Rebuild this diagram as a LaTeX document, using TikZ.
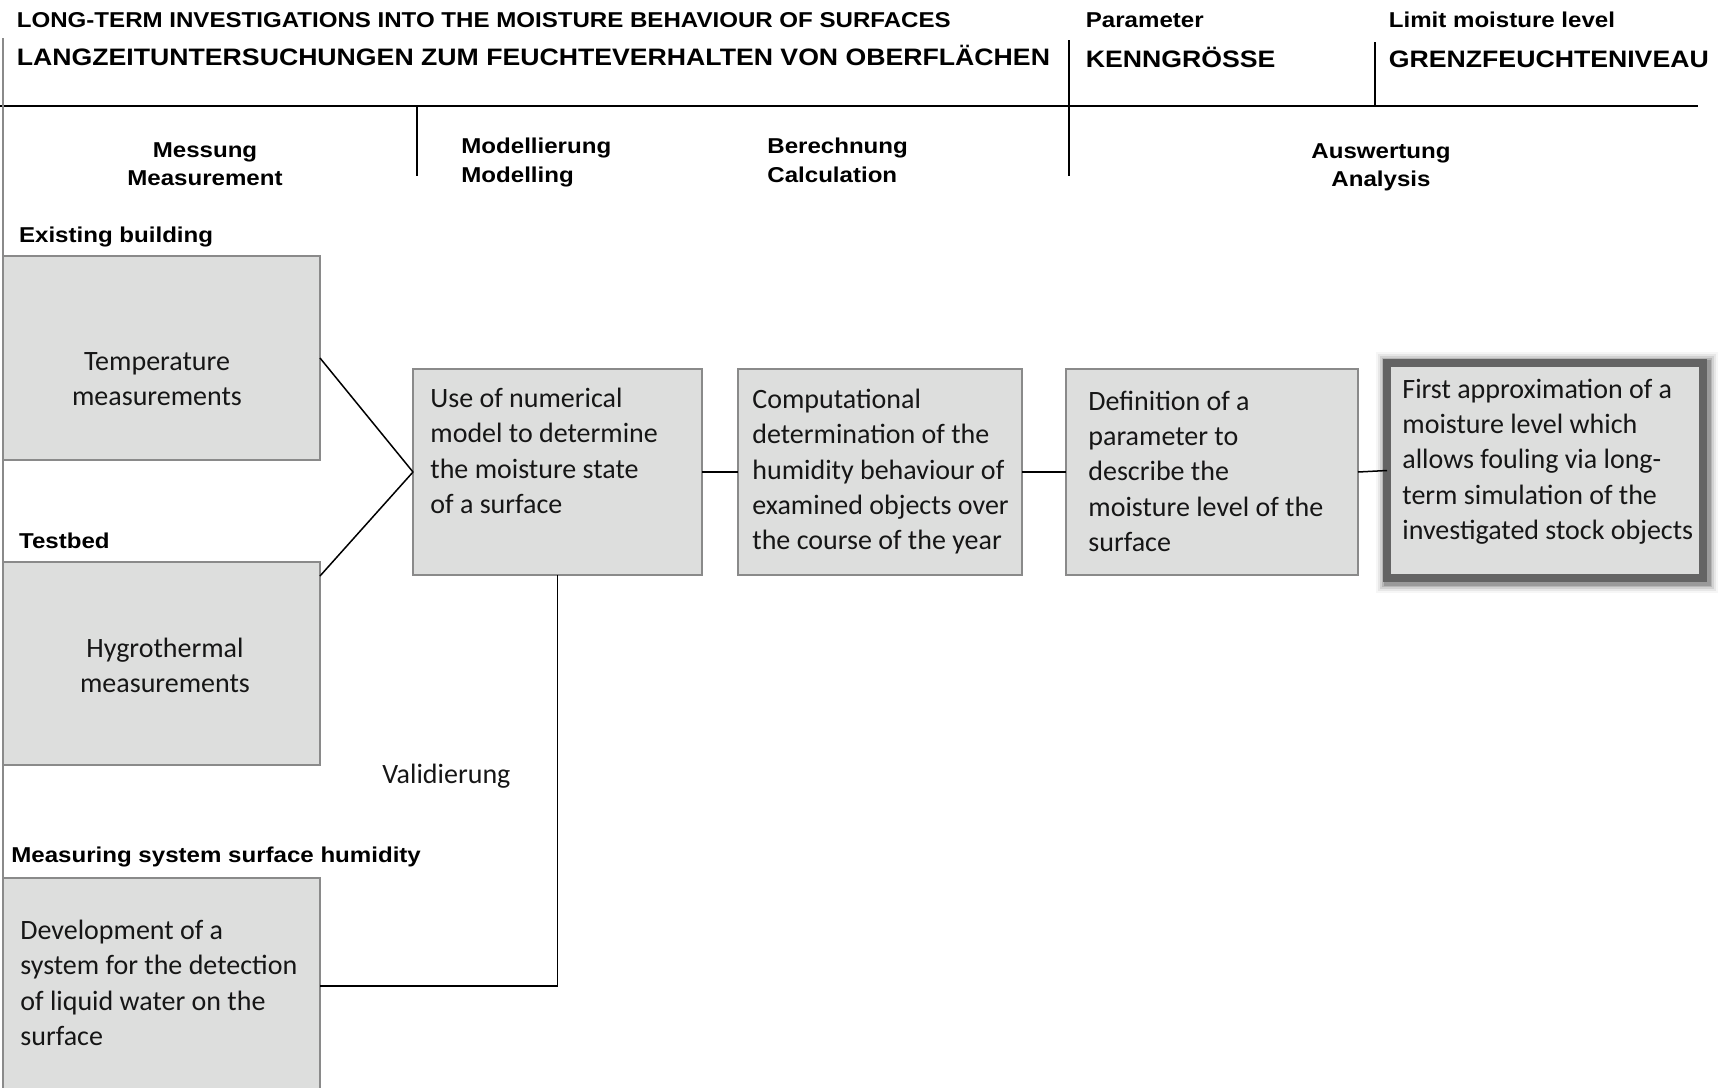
\documentclass[tikz,border=0pt]{standalone}
\usepackage{fontspec}
\setmainfont{Carlito}
\newfontfamily\headfont{Liberation Sans}[FakeStretch=1.12]
\usetikzlibrary{positioning,backgrounds}

\definecolor{boxfill}{RGB}{221,222,221}
\definecolor{boxline}{RGB}{138,138,138}
\definecolor{glowline}{RGB}{100,100,100}
\definecolor{ink}{RGB}{22,22,22}

\begin{document}
\begin{tikzpicture}[x=0.5pt, y=-0.5pt,
  box/.style={draw=boxline, fill=boxfill, line width=1pt, inner sep=0pt, outer sep=0pt},
  boxtext/.style={font=\fontsize{14}{17.55}\selectfont, text=ink, align=left, anchor=north west, inner sep=0pt},
  smallhead/.style={font=\headfont\bfseries\fontsize{10.75}{14.25}\selectfont, inner sep=0pt},
  bighead/.style={font=\headfont\bfseries\fontsize{11.9}{14}\selectfont, anchor=base west, inner sep=0pt},
  rule/.style={line width=0.8pt},
  link/.style={line width=0.75pt}]
  \useasboundingbox (0,0) rectangle (1721,1088);

  % Title block
  \node[smallhead, anchor=base west] (titleen) at (16.5,27) {LONG-TERM INVESTIGATIONS INTO THE MOISTURE BEHAVIOUR OF SURFACES};
  \node[bighead] (titlede) at (16.5,65.5) {LANGZEITUNTERSUCHUNGEN ZUM FEUCHTEVERHALTEN VON OBERFLÄCHEN};
  \node[smallhead, anchor=base west] (paramen) at (1085.5,27) {Parameter};
  \node[bighead] (paramde) at (1085.5,67) {KENNGRÖSSE};
  \node[smallhead, anchor=base west] (limiten) at (1388.5,27) {Limit moisture level};
  \node[bighead] (limitde) at (1388.5,67) {GRENZFEUCHTENIVEAU};

  % Rules of the title block
  \draw[rule] (0,106) -- (1698,106);
  \draw[rule] (417,106) -- (417,176);
  \draw[rule] (1069,40) -- (1069,176);
  \draw[rule] (1375,42) -- (1375,106);
  \draw[boxline, line width=1pt] (3,38) -- (3,878);

  % Column heads
  \node[smallhead, align=center, anchor=north] (colmeas) at (205,142) {Messung\\Measurement};
  \node[smallhead, align=left, anchor=north west] (colmodel) at (461,138) {Modellierung\\Modelling};
  \node[smallhead, align=left, anchor=north west] (colcalc) at (767,138) {Berechnung\\Calculation};
  \node[smallhead, align=center, anchor=north] (colanal) at (1381,143) {Auswertung\\Analysis};

  % Measurement groups
  \node[smallhead, anchor=base west] (grpbuild) at (18.7,242.5) {Existing building};
  \node[smallhead, anchor=base west] (grptest) at (18.7,548.6) {Testbed};
  \node[smallhead, anchor=base west] (grpsys) at (11,862.6) {Measuring system surface humidity};

  \node[box, minimum width=158.5pt, minimum height=102pt] (temp) at (161.5,358) {};
  \node[boxtext, align=center, anchor=north] at (157,352) {Temperature\\measurements};

  \node[box, minimum width=158.5pt, minimum height=101.5pt] (hygro) at (161.5,663.5) {};
  \node[boxtext, align=center, anchor=north] at (165,638) {Hygrothermal\\measurements};

  \node[box, minimum width=158.5pt, minimum height=108pt] (dev) at (161.5,986) {};
  \node[boxtext] at (20,920) {Development of a\\system for the detection\\of liquid water on the\\surface};

  % Process chain
  \node[box, minimum width=144.5pt, minimum height=103pt] (model) at (557.5,472) {};
  \node[boxtext] at (430,388) {Use of numerical\\model to determine\\the moisture state\\of a surface};

  \node[box, minimum width=142pt, minimum height=103pt] (comp) at (880,472) {};
  \node[boxtext] at (752,389) {Computational\\determination of the\\humidity behaviour of\\examined objects over\\the course of the year};

  \node[box, minimum width=146pt, minimum height=103pt] (def) at (1212,472) {};
  \node[boxtext] at (1088,391) {Definition of a\\parameter to\\describe the\\moisture level of the\\surface};

  \node[box, draw=glowline, line width=4pt, minimum width=158pt, minimum height=107.5pt] (first) at (1545,470.5) {};
  \node[boxtext] at (1402,379) {First approximation of a\\moisture level which\\allows fouling via long-\\term simulation of the\\investigated stock objects};

  % soft halo round the result
  \begin{scope}[on background layer]
    \foreach \w/\o in {13/0.06, 11/0.1, 9/0.16, 7/0.25, 5.5/0.35}
      \draw[glowline, line width=\w pt, opacity=\o] ([shift={(2,2)}]first.north west) rectangle ([shift={(2,2)}]first.south east);
  \end{scope}

  % Links
  \draw[link] (temp.east) -- (model.west);
  \draw[link] ([yshift=-7pt]hygro.north east) -- (model.west);
  \draw[link] (model) -- (comp);
  \draw[link] (comp) -- (def);
  \draw[link] (def.east) -- (first.west);
  \draw[link] (dev.east) -| (model.south);
  \node[boxtext, anchor=base west] (valid) at (382,783) {Validierung};
\end{tikzpicture}
\end{document}
